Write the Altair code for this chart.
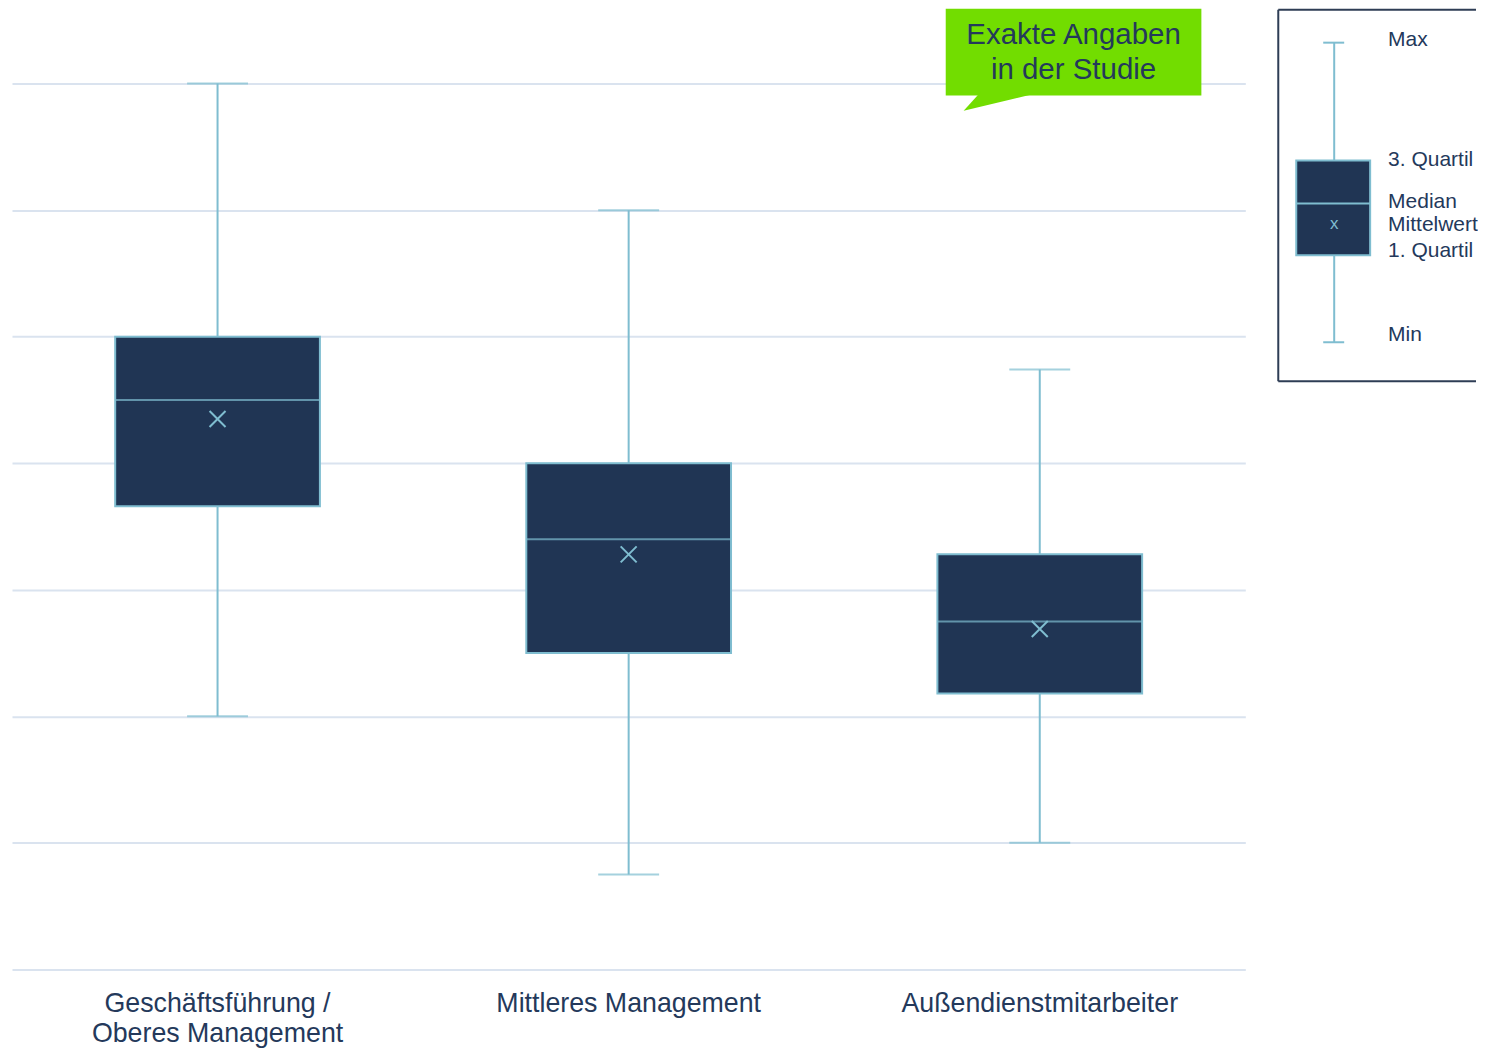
import altair as alt
import pandas as pd

# ---- data ----
categories = ["Geschäftsführung / Oberes Management", "Mittleres Management", "Außendienstmitarbeiter"]
v_min = [2.0, 0.75, 1.0]
v_q1 = [3.66, 2.5, 2.18]
v_median = [4.5, 3.4, 2.75]
v_mean = [4.35, 3.28, 2.69]
v_q3 = [5.0, 4.0, 3.28]
v_max = [7.0, 6.0, 4.74]
grid_values = [0, 1, 2, 3, 4, 5, 6, 7]

callout_text = ["Exakte Angaben", "in der Studie"]

# legend key (mini box, in legend-panel units)
legend_labels = ["Max", "3. Quartil", "Median", "Mittelwert", "1. Quartil", "Min"]
legend_label_y = [343, 222, 180, 157, 131, 47]
key_min, key_q1, key_median, key_mean, key_q3, key_max = 40, 127, 179, 158, 222, 340

NAVY = "#203554"
LIGHT = "#7fbdd0"
GRID = "#dae3ef"
TEXT = "#24395b"
GREEN = "#72dd00"
FONT = "Liberation Sans"

df = pd.DataFrame({
    "cat": categories, "min": v_min, "q1": v_q1, "median": v_median,
    "mean": v_mean, "q3": v_q3, "max": v_max,
})

W, H = 1235, 962
YMAX = 7.592

x_enc = alt.X(
    "cat:N", sort=categories, title=None,
    scale=alt.Scale(paddingInner=0, paddingOuter=0),
    axis=alt.Axis(
        domain=False, ticks=False, grid=False, labelAngle=0,
        labelFontSize=26.8, labelColor=TEXT, labelFont=FONT, labelPadding=21,
        labelLineHeight=30, labelLimit=600,
        labelExpr="split(replace(datum.label, ' / ', ' /|'), '|')",
    ),
)
y_scale = alt.Scale(domain=[0, YMAX], nice=False, zero=True)
y_axis = alt.Axis(
    values=grid_values, grid=True, gridColor=GRID, gridWidth=2,
    labels=False, ticks=False, domain=False, title=None, minExtent=0,
)

base = alt.Chart(df)

whisker = base.mark_rule(color=LIGHT, strokeWidth=2).encode(
    x=x_enc,
    y=alt.Y("min:Q", scale=y_scale, axis=y_axis),
    y2="max:Q",
)
cap_min = base.mark_tick(orient="horizontal", color=LIGHT, size=61, thickness=2).encode(
    x=x_enc, y=alt.Y("min:Q", scale=y_scale)
)
cap_max = base.mark_tick(orient="horizontal", color=LIGHT, size=61, thickness=2).encode(
    x=x_enc, y=alt.Y("max:Q", scale=y_scale)
)
box = base.mark_bar(size=205, fill=NAVY, stroke=LIGHT, strokeWidth=2).encode(
    x=x_enc, y=alt.Y("q1:Q", scale=y_scale), y2="q3:Q"
)
median = base.mark_tick(orient="horizontal", color=LIGHT, size=205, thickness=2).encode(
    x=x_enc, y=alt.Y("median:Q", scale=y_scale)
)
mean = base.mark_point(
    shape="M-1,-1L1,1M-1,1L1,-1", size=256, filled=False, color=LIGHT,
    strokeWidth=2, opacity=1,
).encode(x=x_enc, y=alt.Y("mean:Q", scale=y_scale))

one = alt.Data(values=[{}])
callout_box = alt.Chart(one).mark_rect(color=GREEN).encode(
    x=alt.value(935), x2=alt.value(1191), y=alt.value(0), y2=alt.value(87)
)
callout_tail = alt.Chart(one).mark_point(
    shape="M-0.56,-0.25L0.96,-0.25L-0.98,0.21Z", size=9216, filled=True,
    color=GREEN, opacity=1, strokeWidth=0,
).encode(x=alt.value(1000), y=alt.value(92))
callout_label = alt.Chart(one).mark_text(
    text=callout_text, fontSize=29.5, lineHeight=35, font=FONT, color=TEXT,
    align="center", baseline="middle",
).encode(x=alt.value(1063), y=alt.value(26))

main = alt.layer(
    whisker, cap_min, cap_max, box, median, mean,
    callout_box, callout_tail, callout_label,
).properties(width=W, height=H, view=alt.ViewBackground(stroke=None))

# ---- legend panel ----
LW, LH = 199, 374
lx = alt.Scale(domain=[0, LW], nice=False, zero=True)
ly = alt.Scale(domain=[0, LH], nice=False, zero=True)

border_df = pd.DataFrame({
    "x": [1, 1, 1], "x2": [1, LW, LW], "y": [1, LH - 1, 1], "y2": [LH - 1, LH - 1, 1],
})
border = alt.Chart(border_df).mark_rule(color="#2e3d55", strokeWidth=2).encode(
    x=alt.X("x:Q", scale=lx, axis=None), x2="x2:Q",
    y=alt.Y("y:Q", scale=ly, axis=None), y2="y2:Q",
)
key_df = pd.DataFrame({
    "x": [57], "min": [key_min], "q1": [key_q1], "median": [key_median],
    "mean": [key_mean], "q3": [key_q3], "max": [key_max],
    "bx1": [19], "bx2": [93], "cx1": [46], "cx2": [67],
})
kb = alt.Chart(key_df)
k_whisker = kb.mark_rule(color=LIGHT, strokeWidth=2).encode(
    x=alt.X("x:Q", scale=lx, axis=None), y=alt.Y("min:Q", scale=ly, axis=None), y2="max:Q"
)
k_cap1 = kb.mark_rule(color=LIGHT, strokeWidth=2).encode(
    x=alt.X("cx1:Q", scale=lx, axis=None), x2="cx2:Q", y=alt.Y("min:Q", scale=ly, axis=None)
)
k_cap2 = kb.mark_rule(color=LIGHT, strokeWidth=2).encode(
    x=alt.X("cx1:Q", scale=lx, axis=None), x2="cx2:Q", y=alt.Y("max:Q", scale=ly, axis=None)
)
k_box = kb.mark_rect(fill=NAVY, stroke=LIGHT, strokeWidth=2).encode(
    x=alt.X("bx1:Q", scale=lx, axis=None), x2="bx2:Q",
    y=alt.Y("q1:Q", scale=ly, axis=None), y2="q3:Q",
)
k_median = kb.mark_rule(color=LIGHT, strokeWidth=2).encode(
    x=alt.X("bx1:Q", scale=lx, axis=None), x2="bx2:Q", y=alt.Y("median:Q", scale=ly, axis=None)
)
k_mean = kb.mark_text(text="x", fontSize=17, font=FONT, color=LIGHT, baseline="middle").encode(
    x=alt.X("x:Q", scale=lx, axis=None), y=alt.Y("mean:Q", scale=ly, axis=None)
)
lab_df = pd.DataFrame({"label": legend_labels, "y": legend_label_y, "x": [111] * len(legend_labels)})
k_labels = alt.Chart(lab_df).mark_text(
    fontSize=21, font=FONT, color=TEXT, align="left", baseline="middle"
).encode(
    x=alt.X("x:Q", scale=lx, axis=None), y=alt.Y("y:Q", scale=ly, axis=None), text="label:N"
)
legend_panel = alt.layer(
    border, k_whisker, k_cap1, k_cap2, k_box, k_median, k_mean, k_labels
).properties(width=LW, height=LH, view=alt.ViewBackground(stroke=None))

chart = alt.hconcat(main, legend_panel, spacing=32).properties(
    padding={"left": 4, "top": 0, "right": 0, "bottom": 0}
).configure_view(stroke=None)

chart.save("out.html", embed_options={"renderer": "svg", "actions": False})
